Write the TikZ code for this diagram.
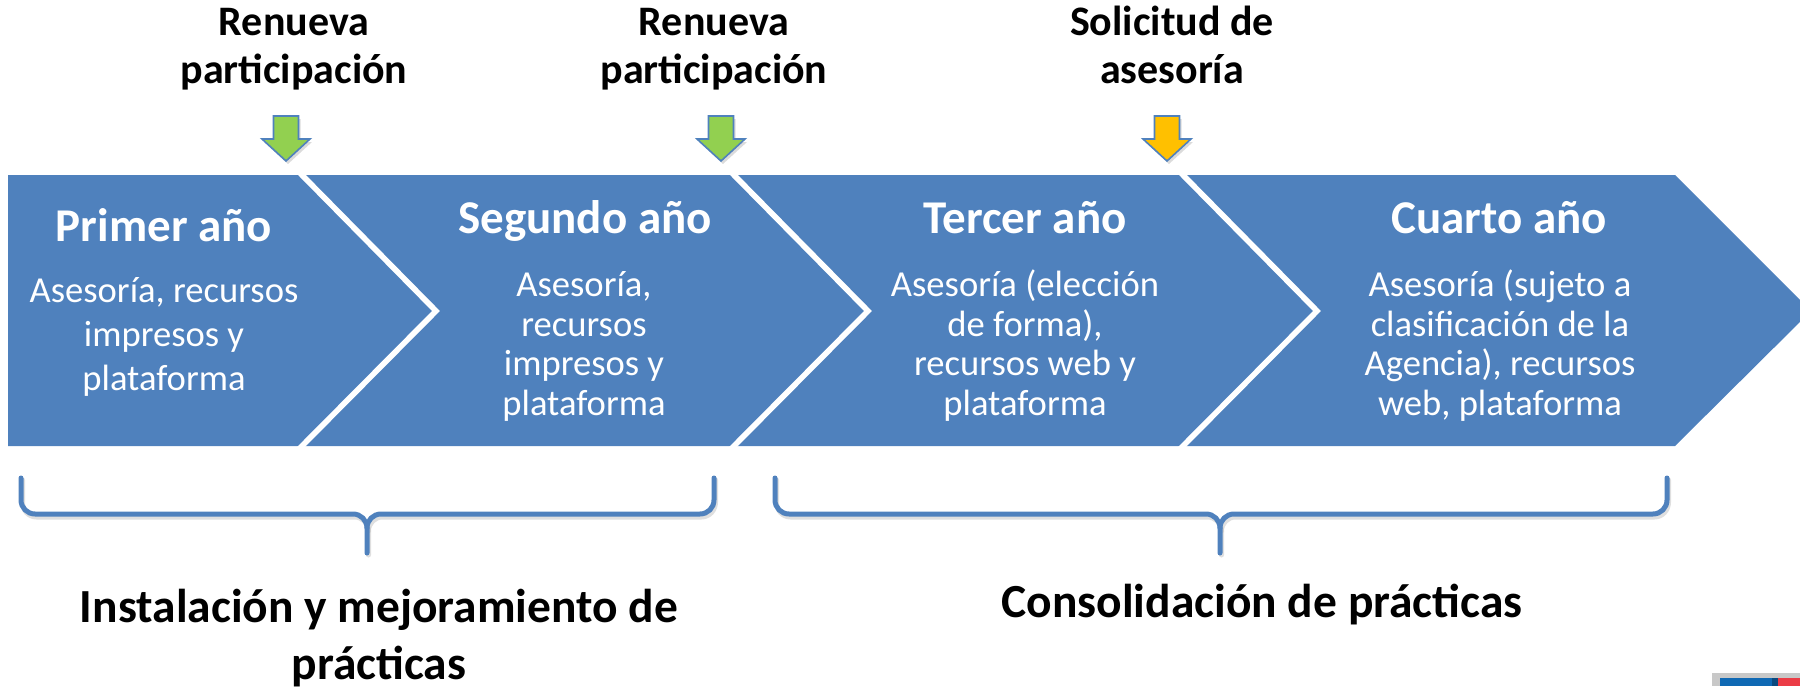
\documentclass[tikz,border=0pt]{standalone}
\usepackage{fontspec}
\setmainfont{Carlito}
\definecolor{chev}{HTML}{4F81BD}
\definecolor{grn}{HTML}{92D050}
\definecolor{ylw}{HTML}{FFC000}
\definecolor{logogray}{HTML}{C8C8C8}
\definecolor{logoblue}{HTML}{0F69B4}
\definecolor{logored}{HTML}{EB3C46}
\begin{document}
\begin{tikzpicture}[x=0.5pt,y=-0.5pt,
  sep/.style={draw=white,line width=2.8pt,line join=miter},
  yeartitle/.style={anchor=base,text=white,font=\fontsize{23.5}{28}\selectfont\bfseries,inner sep=0pt},
  yearbody/.style={anchor=base,text=white,align=center,inner sep=0pt,font=\fontsize{18.3}{19.75}\selectfont},
  toplabel/.style={anchor=base,align=center,inner sep=0pt,font=\fontsize{21}{24}\selectfont\bfseries},
  bottomlabel/.style={anchor=base,align=center,inner sep=0pt,font=\fontsize{23.75}{28.5}\selectfont\bfseries},
  bracestyle/.style={draw=chev,line width=2.5pt,line cap=round,line join=round},
  braceshadow/.style={draw=black!25,line width=2.5pt,line cap=round,line join=round,opacity=0.5},
  arrowshape/.style={draw=chev,line width=0.8pt,line join=miter},
  arrowshadow/.style={fill=black!40,opacity=0.35}
]
\useasboundingbox (0,0) rectangle (1800,686);

% chevron band
\begin{scope}
\clip (0,0) rectangle (1800,686);
\fill[chev] (8,175) -- (1675,175) -- (1811,311) -- (1675,446) -- (8,446) -- cycle;
\end{scope}
% separators
\coordinate (s1t) at (299,172); \coordinate (s1p) at (436,311); \coordinate (s1b) at (299,449);
\coordinate (s2t) at (731,172); \coordinate (s2p) at (868,311); \coordinate (s2b) at (731,449);
\coordinate (s3t) at (1180,172); \coordinate (s3p) at (1317,311); \coordinate (s3b) at (1180,449);
\draw[sep] (s1t) -- (s1p) -- (s1b);
\draw[sep] (s2t) -- (s2p) -- (s2b);
\draw[sep] (s3t) -- (s3p) -- (s3b);

% titles
\node[yeartitle] (t1) at (164,241) {Primer año};
\node[yeartitle] (t2) at (585,233) {Segundo año};
\node[yeartitle] (t3) at (1025,233) {Tercer año};
\node[yeartitle] (t4) at (1499,233) {Cuarto año};

% bodies (anchor base = baseline of last line)
\node[yearbody,font=\fontsize{18.3}{22}\selectfont] (b1) at (164,390) {Asesoría, recursos\\impresos y\\plataforma};
\node[yearbody] (b2) at (584,415) {Asesoría,\\recursos\\impresos y\\plataforma};
\node[yearbody] (b3) at (1025,415) {Asesoría (elección\\de forma),\\recursos web y\\plataforma};
\node[yearbody] (b4) at (1500,415) {Asesoría (sujeto a\\clasificación de la\\Agencia), recursos\\web, plataforma};

% top labels
\node[toplabel] (l1) at (294,83) {Renueva\\participación};
\node[toplabel] (l2) at (714,83) {Renueva\\participación};
\node[toplabel] (l3) at (1172,83) {Solicitud de\\asesoría};

% down arrows
\foreach \cx/\col/\nm in {286/grn/a1, 721/grn/a2, 1167/ylw/a3}{
  \fill[arrowshadow] (\cx-10.5,119) -- (\cx+14.5,119) -- (\cx+14.5,142) -- (\cx+26,142) -- (\cx+2,164) -- (\cx-22,142) -- (\cx-10.5,142) -- cycle;
  \filldraw[arrowshape,fill=\col] (\cx-12.5,116) -- (\cx+12.5,116) -- (\cx+12.5,139) -- (\cx+24,139) -- (\cx,161) -- (\cx-24,139) -- (\cx-12.5,139) -- cycle;
  \coordinate (\nm) at (\cx,161);
}

% braces
\coordinate (b1l) at (21,478); \coordinate (b1m) at (367,553); \coordinate (b1r) at (714,478);
\coordinate (b2l) at (775,478); \coordinate (b2m) at (1220,553); \coordinate (b2r) at (1667,478);
\foreach \L/\M/\R in {21/367/714, 775/1220/1667}{
  \draw[braceshadow] (\L+1.5,480) -- (\L+1.5,502) to[out=-90,in=180] (\L+15.5,517) -- (\M-12.5,517) to[out=0,in=90] (\M+1.5,531) -- (\M+1.5,555);
  \draw[braceshadow] (\M+1.5,531) to[out=90,in=180] (\M+15.5,517) -- (\R-12.5,517) to[out=0,in=-90] (\R+1.5,502) -- (\R+1.5,480);
  \draw[bracestyle] (\L,478) -- (\L,500) to[out=-90,in=180] (\L+14,514) -- (\M-14,514) to[out=0,in=90] (\M,528) -- (\M,553);
  \draw[bracestyle] (\M,528) to[out=90,in=180] (\M+14,514) -- (\R-14,514) to[out=0,in=-90] (\R,500) -- (\R,478);
}

% bottom labels
\node[bottomlabel] (g1) at (379,679) {Instalación y mejoramiento de\\prácticas};
\node[bottomlabel] (g2) at (1262,617) {Consolidación de prácticas};

% logo fragment
\fill[logogray] (1712,673) rectangle (1800,686);
\fill[logoblue] (1720,678) rectangle (1772,686);
\fill[logoblue!70!black] (1772,678) rectangle (1778,686);
\fill[logored] (1778,678) rectangle (1800,686);
\end{tikzpicture}
\end{document}
